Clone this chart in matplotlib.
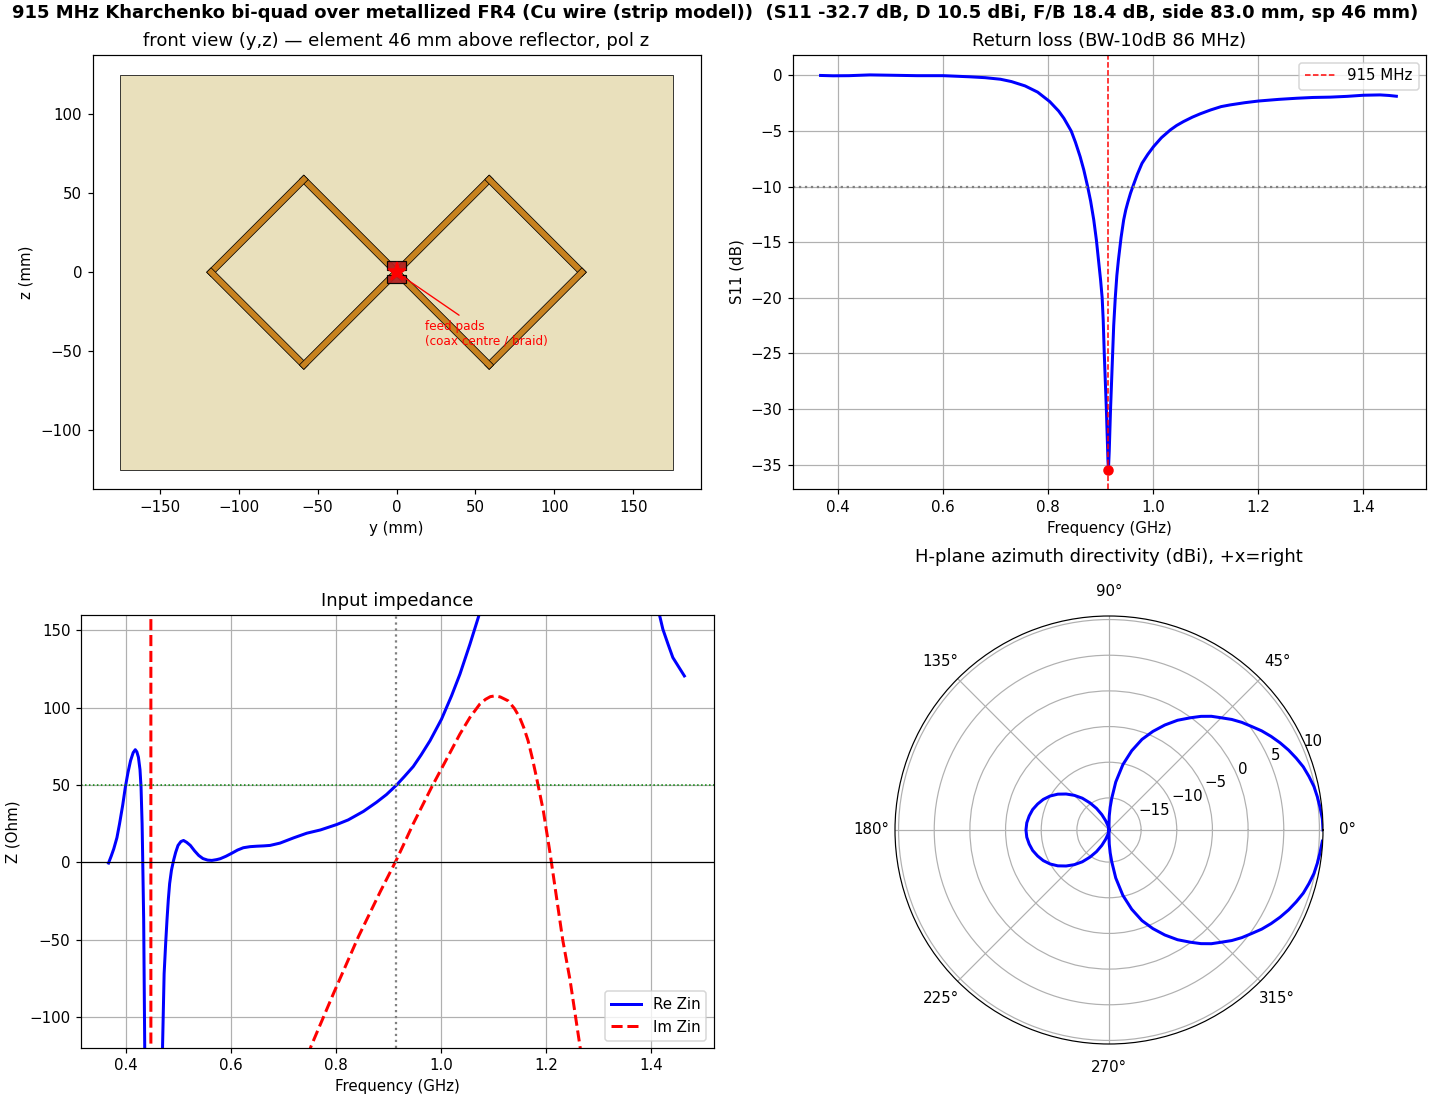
import numpy as np
import matplotlib
matplotlib.use("Agg")
import matplotlib.pyplot as plt
from matplotlib.patches import Polygon, Rectangle

SUPTITLE = ("915 MHz Kharchenko bi-quad over metallized FR4 (Cu wire (strip model))  "
            "(S11 -32.7 dB, D 10.5 dBi, F/B 18.4 dB, side 83.0 mm, sp 46 mm)")

# Geometry (mm)
board_y = [-175, 175]
board_z = [-125, 125]
quad_y = [0, 58.7, 117.4, 58.7, 0, -58.7, -117.4, -58.7, 0]
quad_z = [0, 58.7, 0, -58.7, 0, 58.7, 0, -58.7, 0]
strip_width = 4.0
pad_top = [-6, 1.5, 12, 5.5]
pad_bot = [-6, -7, 12, 5.5]

# S11
s11_f = [.366, .39, .42, .46, .50, .55, .60, .65, .68, .709, .73, .756, .78, .803, .82, .83, .844,
         .852, .861, .868, .875, .881, .887, .892, .896, .900, .903, .905, .907, .909, .911,
         .913, .914, .915, .9165, .918, .919, .921, .923, .925, .928, .931, .934, .939, .944,
         .948, .952, .957, .962, .970, .979, .99, 1.001, 1.016, 1.033, 1.045, 1.058, 1.075, 1.09, 1.11,
         1.13, 1.147, 1.175, 1.201, 1.24, 1.274, 1.305, 1.338, 1.37, 1.401, 1.433, 1.45, 1.464]
s11_db = [0, -.03, -.02, .05, .02, -.02, -.02, -.12, -.2, -.34, -.55, -.94, -1.5, -2.35, -3.2, -3.85, -5.0,
          -6, -7.3, -8.5, -9.93, -11.3, -13, -14.8, -16.6, -18.4, -20, -22, -25, -27.5, -30,
          -33, -34.6, -35.45, -33.8, -31.5, -30, -27.5, -25, -22.5, -20, -18, -16.6, -14.6, -13,
          -12.1, -11.4, -10.6, -9.93, -8.9, -7.9, -7.1, -6.4, -5.6, -4.9, -4.5, -4.15, -3.75, -3.45, -3.1,
          -2.8, -2.65, -2.45, -2.3, -2.15, -2.05, -1.98, -1.95, -1.88, -1.78, -1.75, -1.8, -1.87]
f_marker = [0.915]
s11_marker = [-35.45]

# Impedance
re_f = [.366, .371, .376, .382, .387, .393, .398, .403, .408, .413, .417, .420, .423, .426, .428, .43,
        .431, .433, .435, .44, .45, .46, .469, .472, .475, .4775, .48, .4825, .486, .49, .494,
        .4985, .504, .509, .515, .522, .53, .538, .546, .555, .563, .572, .579, .59, .6013, .612,
        .623, .636, .649, .662, .674, .693, .706, .719, .744, .77, .801, .823, .852, .877, .896,
        .915, .93, .947, .962, .979, 1.001, 1.02, 1.036, 1.055, 1.072, 1.09, 1.2,
        1.3, 1.38, 1.417, 1.423, 1.433, 1.442, 1.454, 1.464]
re_z = [-.4, 4, 8.8, 16, 25, 37, 48.6, 58, 65.8, 71, 72.9, 71.5, 68, 60, 48.6, 25,
        5.6, -37, -119, -300, -450, -300, -119, -72, -52, -37, -24, -13.7, -5, 1.3, 6.5,
        11, 13.5, 14.2, 13, 11, 7.5, 4.5, 2.5, 1.5, 1.3, 1.8, 2.4, 4, 6, 8,
        9.5, 10.2, 10.5, 10.7, 11, 12.5, 14.2, 15.9, 18.9, 21, 24.5, 27.5, 33, 38.9, 43.9,
        50, 55.5, 62, 69.5, 78.7, 92.7, 107.7, 121.7, 141, 159.4, 190, 280,
        290, 210, 159.4, 150.8, 141, 132.5, 126, 120.6]
im_f = [.366, .40, .44, .445, .4465, .447, .46, .60, .70, .752, .795, .8425, .884, .914, .93,
        .947, .982, 1.004, 1.036, 1.055, 1.074, 1.085, 1.094, 1.103, 1.113, 1.128, 1.14, 1.15,
        1.158, 1.166, 1.174, 1.182, 1.195, 1.208, 1.232, 1.246, 1.265, 1.35, 1.464]
im_z = [300, 700, 1500, 2000, 2500, -2500, -1200, -400, -170, -119, -84.7, -48, -19, 1, 12.5,
        25, 48.6, 62.6, 83, 93.7, 102.4, 105.5, 107.2, 107.7, 107, 104.5, 99.5, 93.7,
        87, 78.7, 67.5, 55, 33.5, 5.8, -50, -76, -119, -300, -500]

# Azimuth pattern
az_deg = [0, 3, 6, 9, 12, 15, 18, 21, 24, 27, 30, 33, 36, 39, 42, 45, 48, 51, 54, 58, 62, 66, 70, 74,
          78, 82, 85, 87, 89, 90, 92, 95, 100, 105, 110, 115, 120, 125, 130, 135, 140, 145, 150, 155,
          160, 165, 170, 175, 180, 185, 190, 195, 200, 205, 210, 215, 220, 225, 230, 235, 240, 245,
          250, 255, 260, 265, 268, 270, 271, 273, 275, 278, 282, 286, 290, 294, 298, 302, 306, 309,
          312, 315, 318, 321, 324, 327, 330, 333, 336, 339, 342, 345, 348, 351, 354, 357]
az_db = [10.5, 10.45, 10.26, 10.08, 9.87, 9.52, 9.14, 8.61, 8.05, 7.42, 6.74, 6.02, 5.2, 4.47, 3.66,
         2.75, 1.95, 1.0, -.05, -1.36, -2.83, -4.37, -5.98, -7.94, -10.12, -12.71, -15.01, -16.28,
         -17.54, -18.66, -19.5, -19.5, -19.22, -18.8, -18.1, -17.12, -16, -14.87, -13.68, -12.63,
         -11.65, -10.74, -9.97, -9.34, -8.85, -8.42, -8.14, -7.93, -7.86,
         -7.93, -8.14, -8.42, -8.85, -9.34, -9.97, -10.74, -11.65, -12.63, -13.68, -14.87, -16,
         -17.12, -18.1, -18.8, -19.22, -19.5, -19.5, -18.66, -17.54, -16.28, -15.01, -12.71, -10.12,
         -7.94, -5.98, -4.37, -2.83, -1.36, -.05, 1.0, 1.95, 2.75, 3.66, 4.47, 5.2, 6.02, 6.74, 7.42,
         8.05, 8.61, 9.14, 9.52, 9.87, 10.08, 10.26, 10.45]
r_ticks = [-15, -10, -5, 0, 5, 10]

W, H = 1430.0, 1100.0
DPI = 108
def box(l, t, r, b):
    return [l / W, 1 - b / H, (r - l) / W, (b - t) / H]

plt.rcParams["font.family"] = "DejaVu Sans"
fig = plt.figure(figsize=(W / DPI, H / DPI), dpi=DPI)
fig.text(715 / W, 1 - 12.5 / H, SUPTITLE, ha="center", va="center", fontsize=12, fontweight="bold")

# Front view
ax = fig.add_axes(box(92.5, 55, 700.5, 489.5))
ax.add_patch(Rectangle((board_y[0], board_z[0]), board_y[1] - board_y[0], board_z[1] - board_z[0],
                       fc="#e9e0bc", ec="k", lw=0.5))
qy, qz = np.array(quad_y), np.array(quad_z)
for i in range(len(qy) - 1):
    p0 = np.array([qy[i], qz[i]]); p1 = np.array([qy[i + 1], qz[i + 1]])
    d = (p1 - p0) / np.linalg.norm(p1 - p0)
    n = np.array([-d[1], d[0]]) * strip_width / 2
    e = d * strip_width / 2
    ax.add_patch(Polygon([p0 - e + n, p1 + e + n, p1 + e - n, p0 - e - n], closed=True,
                         fc="#c8821f", ec="k", lw=0.5, zorder=3))
for p in (pad_top, pad_bot):
    ax.add_patch(Rectangle((p[0], p[1]), p[2], p[3], fc="#b22222", ec="k", lw=0.8, alpha=0.95, zorder=4))
ax.plot([0], [0], marker="*", ms=13, color="red", zorder=5)
ax.annotate("feed pads\n(coax centre / braid)", xy=(0, 0), xytext=(18, -46), color="red", fontsize=8,
            arrowprops=dict(arrowstyle="-", color="red", lw=0.9), zorder=6)
ax.set_xlim(-192.5, 192.5)
ax.set_ylim(-137.5, 137.5)
ax.set_aspect("equal", adjustable="box")
ax.set_xlabel("y (mm)")
ax.set_ylabel("z (mm)", labelpad=5)
ax.set_title("front view (y,z) \u2014 element 46 mm above reflector, pol z", fontsize=12)

# Return loss
ax = fig.add_axes(box(793, 55, 1426, 489))
ax.plot(s11_f, s11_db, color="blue", lw=2)
ax.axvline(0.915, color="red", ls="--", lw=1, label="915 MHz")
ax.axhline(-10, color="gray", ls=":", lw=1.5)
ax.plot(f_marker, s11_marker, "o", color="red", ms=6)
ax.set_xlim(0.3135, 1.5205)
ax.set_ylim(-37.2, 1.84)
ax.set_xlabel("Frequency (GHz)")
ax.set_ylabel("S11 (dB)")
ax.set_title("Return loss (BW-10dB 86 MHz)", fontsize=12)
ax.grid(True)
ax.legend(loc="upper right")

# Impedance
ax = fig.add_axes(box(81, 615, 714, 1048))
ax.plot(re_f, re_z, color="blue", lw=2, label="Re Zin")
ax.plot(im_f, im_z, color="red", ls="--", lw=2, label="Im Zin")
ax.axhline(50, color="green", ls=":", lw=1)
ax.axhline(0, color="k", lw=0.8)
ax.axvline(0.915, color="gray", ls=":", lw=1.5)
ax.set_xlim(0.3135, 1.5205)
ax.set_ylim(-120, 160)
ax.set_xlabel("Frequency (GHz)")
ax.set_ylabel("Z (Ohm)", labelpad=6)
ax.set_title("Input impedance", fontsize=12)
ax.grid(True)
ax.legend(loc="lower right")

# Polar
ax = fig.add_axes(box(895, 616, 1323, 1044), projection="polar")
ax.plot(np.deg2rad(az_deg), az_db, color="blue", lw=2)
ax.set_rlim(-19.5, 10.5)
ax.set_rticks(r_ticks)
ax.tick_params(axis="x", pad=5.5)
ax.grid(True)
ax.set_title("H-plane azimuth directivity (dBi), +x=right", fontsize=12, pad=36)

fig.savefig("out.png", dpi=DPI)
